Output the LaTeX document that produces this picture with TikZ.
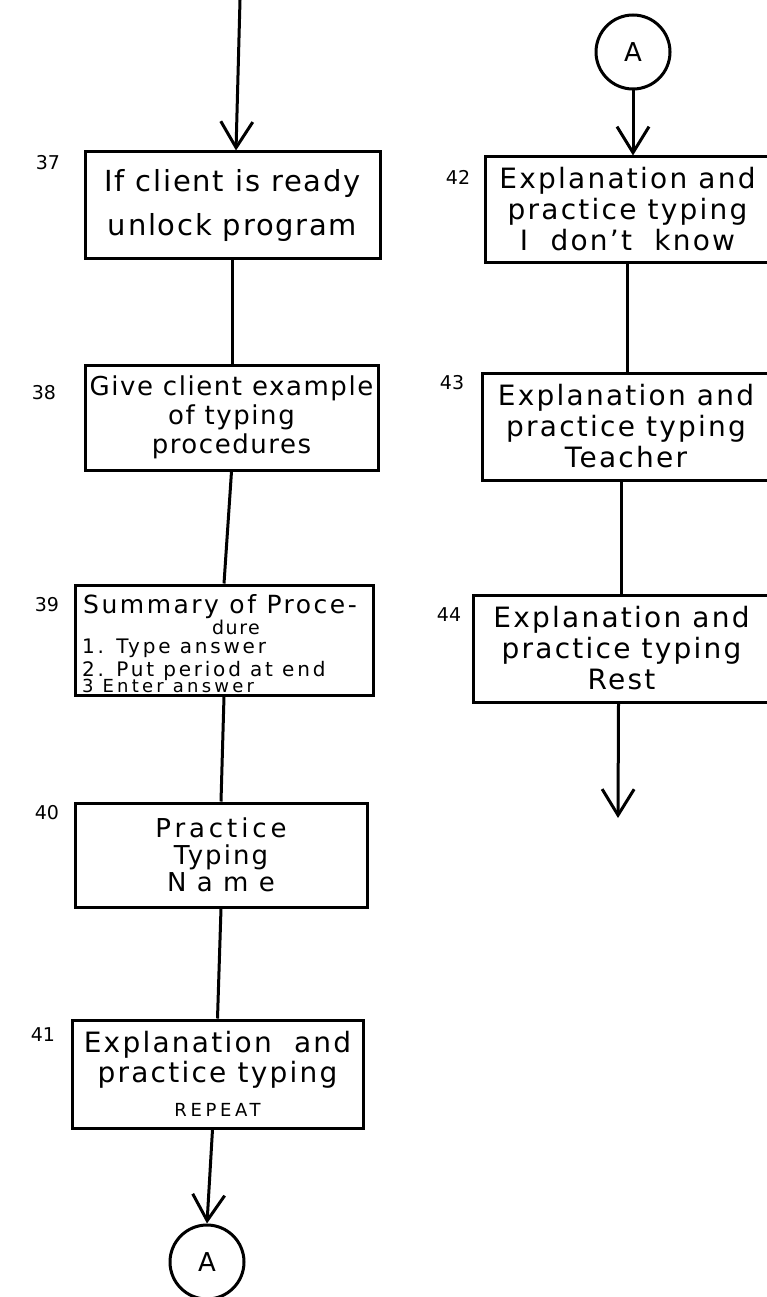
\documentclass[tikz,border=0pt]{standalone}
\usepackage{fontspec}
\setmainfont{DejaVu Sans}
\usetikzlibrary{arrows.meta}
% letter spacing for the hand-lettered look
\newcommand\ls[1]{\addfontfeatures{LetterSpace=#1}}
\newcommand\hand[2]{\fontsize{#1}{#2}\selectfont}
\begin{document}
\begin{tikzpicture}[x=1pt,y=-1pt,
  box/.style={draw, line width=3pt, rectangle, inner sep=0pt, align=center},
  link/.style={line width=3pt},
  arr/.style={link, -{Straight Barb[length=26pt,width=32pt]}},
  conn/.style={draw, circle, line width=3pt, minimum size=74pt, inner sep=0pt,
               font=\hand{26}{28}},
  num/.style={font=\hand{19}{22}, inner sep=0pt},
  txt/.style={inner sep=0pt, anchor=base west},
]
\useasboundingbox (0,0) rectangle (767,1297);
\clip (0,0) rectangle (767,1297);

% ---- left column ----
\node[box, minimum width=295pt, minimum height=106pt, font=\hand{29}{44}\ls{6}]
  (b37) at (232.5,205) {If client is ready\\unlock program};
\node[box, minimum width=293pt, minimum height=105pt, font=\hand{26}{29}\ls{6}]
  (b38) at (231.5,417.5) {Give client example\\of typing\\procedures};
\node[box, minimum width=298pt, minimum height=110pt] (b39) at (224,640) {};
\node[txt, font=\hand{25}{28}\ls{10}] (s1) at (83,613) {Summary of Proce-};
\node[inner sep=0pt, anchor=base, font=\hand{19}{21}\ls{8}] (s2) at (236,634) {dure};
\node[txt, font=\hand{20}{22}\ls{14}] (s3) at (82,653) {1. Type answer};
\node[txt, font=\hand{20}{22}\ls{14}] (s4) at (82,676) {2. Put period at end};
\node[txt, font=\hand{18}{20}\ls{18}] (s5) at (82,692) {3 Enter answer};
\node[box, minimum width=292pt, minimum height=104pt, font=\hand{26}{27}]
  (b40) at (221,855) {{\ls{15}Practice}\\{\ls{8}Typing}\\{\ls{40}Name}};
\node[box, minimum width=291pt, minimum height=108pt, font=\hand{28}{30}\ls{8}]
  (b41) at (217.5,1074) {Explanation\ \ and\\practice typing\\[4pt]{\hand{18}{20}\ls{20}REPEAT}};
\node[conn] (ca) at (207,1262) {A};

\node[num] (n37) at (48,163) {37};
\node[num] (n38) at (44,393) {38};
\node[num] (n39) at (47,605) {39};
\node[num] (n40) at (47,813) {40};
\node[num] (n41) at (43,1035) {41};

% ---- right column ----
\node[conn] (ca2) at (633,52) {A};
\node[box, minimum width=285pt, minimum height=105pt, font=\hand{28}{31}\ls{8}]
  (b42) at (627.5,209.5) {Explanation and\\practice typing\\I\ \ don't\ \ know};
\node[box, minimum width=288pt, minimum height=107pt, font=\hand{28}{31}\ls{8}]
  (b43) at (626,426.5) {Explanation and\\practice typing\\Teacher};
\node[box, minimum width=297pt, minimum height=107pt, font=\hand{28}{31}\ls{8}]
  (b44) at (621.5,648.5) {Explanation and\\practice typing\\Rest};

\node[num] (n42) at (458,177) {42};
\node[num] (n43) at (452,383) {43};
\node[num] (n44) at (449,615) {44};

% ---- connectors ----
\coordinate (entry) at (240,0);
\coordinate (exit) at (618,818);
\draw[arr] (entry) -- ([xshift=3.5pt]b37.north);
\draw[link] (b37.south) -- (b37.south |- b38.north);
\draw[link] (b38.south) -- (b39.north);
\draw[link] (b39.south) -- (b40.north);
\draw[link] (b40.south) -- (b41.north);
\draw[arr] ([xshift=-5pt]b41.south) -- (ca.north);

\draw[arr] (ca2.south) -- (ca2.south |- b42.north);
\draw[link] (b42.south) -- (b42.south |- b43.north);
\draw[link] (b43.south -| b44.north) -- (b44.north);
\draw[arr] ([xshift=-3pt]b44.south) -- (exit);
\end{tikzpicture}
\end{document}
